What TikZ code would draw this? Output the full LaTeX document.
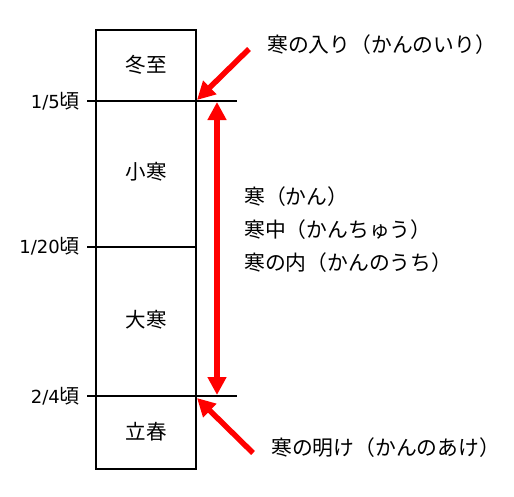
\documentclass[tikz,border=0pt]{standalone}
\usepackage{fontspec}
\setmainfont{Noto Sans CJK JP}
\newfontfamily\latinf{DejaVu Sans}
\usetikzlibrary{arrows.meta}
\begin{document}
\begin{tikzpicture}[x=1pt,y=-1pt,
  blk/.style={line width=2pt,line cap=rect},
  redarrow/.style={draw=red,line width=5.5pt,-{Triangle[width=18pt,length=18pt]}},
  reddouble/.style={draw=red,line width=5.5pt,{Triangle[width=18pt,length=18pt]}-{Triangle[width=18pt,length=18pt]}},
  cell/.style={font=\fontsize{20.5}{24}\selectfont,inner sep=0pt},
  date/.style={font=\fontsize{20}{24}\selectfont,anchor=east,inner sep=0pt},
  lbl/.style={font=\fontsize{20.8}{24}\selectfont,anchor=west,inner sep=0pt}]
\useasboundingbox (0,0) rectangle (514,496);
% box
\coordinate (tl) at (96,30);
\coordinate (br) at (196,469);
\draw[blk] (tl) rectangle (br);
\coordinate (a1) at (88,101);
\coordinate (a2) at (236,101);
\coordinate (b1) at (88,246.5);
\coordinate (b2) at (196,246.5);
\coordinate (c1) at (88,396);
\coordinate (c2) at (236,396);
\draw[blk] (a1) -- (a2);
\draw[blk] (b1) -- (b2);
\draw[blk] (c1) -- (c2);
% cell labels
\node[cell] (toji) at (146,65) {冬至};
\node[cell] (shokan) at (146,172) {小寒};
\node[cell] (daikan) at (146,320) {大寒};
\node[cell] (risshun) at (146,432) {立春};
% dates
\node[date] (d1) at (80,101) {{\latinf\fontsize{18}{22}\selectfont 1/5}頃};
\node[date] (d2) at (80,246) {{\latinf\fontsize{18}{22}\selectfont 1/20}頃};
\node[date] (d3) at (80,396) {{\latinf\fontsize{18}{22}\selectfont 2/4}頃};
% arrows
\coordinate (s1) at (249,49);
\coordinate (e1) at (197,100);
\coordinate (s2) at (253,453);
\coordinate (e2) at (197,398);
\coordinate (u1) at (217,102);
\coordinate (u2) at (217,395);
\draw[redarrow] (s1) -- (e1);
\draw[redarrow] (s2) -- (e2);
\draw[reddouble] (u1) -- (u2);
% labels
\node[lbl] (iri) at (267,45) {寒の入り（かんのいり）};
\node[lbl] (ake) at (271,448) {寒の明け（かんのあけ）};
\node[lbl] (k1) at (244,197) {寒（かん）};
\node[lbl] (k2) at (244,230) {寒中（かんちゅう）};
\node[lbl] (k3) at (244,263) {寒の内（かんのうち）};
\end{tikzpicture}
\end{document}
